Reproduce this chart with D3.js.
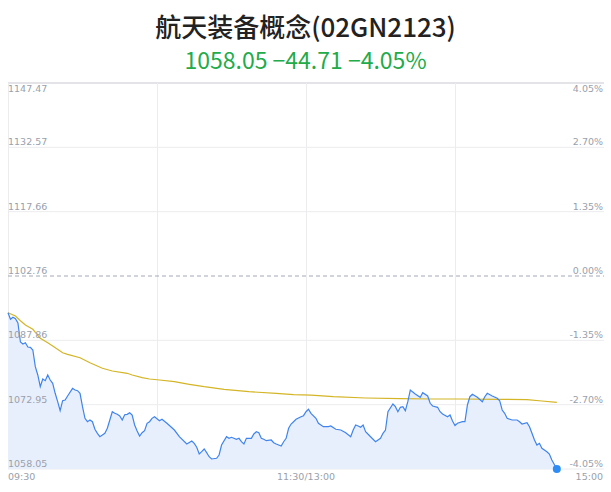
<!DOCTYPE html>
<html>
<head>
<meta charset="utf-8">
<script src="https://cdn.jsdelivr.net/npm/d3@7"></script>
<style>
  body { margin: 0; background: #fff; }
</style>
</head>
<body>
<div id="vis"></div>
<script>
const WIDTH = 611;
const HEIGHT = 492;
const MARGINS = {left: 8, right: 7, top: 83, bottom: 23};

const TITLE = "航天装备概念(02GN2123)";
const SUBTITLE = "1058.05 −44.71 −4.05%";

// price axis ticks (left) and percent labels (right)
const PRICE_TICKS = [1147.47, 1132.57, 1117.66, 1102.76, 1087.86, 1072.95, 1058.05];
const PCT_LABELS = ["4.05%", "2.70%", "1.35%", "0.00%", "-1.35%", "-2.70%", "-4.05%"];
const PREV_CLOSE = 1102.76;

// minutes from 09:30 (0..240, lunch break squeezed out)
const TIME_TICKS = [0, 120, 240];
const TIME_LABELS = ["09:30", "11:30/13:00", "15:00"];
const GRID_MINUTES = [0, 60, 120, 180];

// intraday price
const PRICE_MIN = [0,1,2,3,4,5,6,7,8,9,10,11,12,13,14,15,16,17,18,19,20,21,22,23,24,26,27,28,29,30,
  31,32,33,34,35,36,37,39,40,41,42,43,44,45,46,47,48,49,50,51,52,53,54,55,56,57,58,59,61,62,
  64,67,69,72,74,75,76,77,78,79,80,81,82,84,85,86,88,89,90,92,93,94,95,96,98,99,100,101,102,103,
  104,106,107,108,110,111,112,113,114,115,116,118,119,120,121,122,124,125,127,129,130,132,134,136,138,139,140,141,142,143,
  144,146,148,150,151,152,153,155,156,157,158,159,160,161,162,164,166,167,169,170,171,173,174,175,177,178,179,180,181,183,
  184,185,186,187,189,191,192,193,195,197,198,199,200,201,203,205,206,207,209,210,211,212,213,214,215,217,218,219,221];
const PRICE = [1094.26,1092.73,1093.19,1092.87,1091.87,1087.47,1087.01,1087.31,1086.31,1086.24,1085.62,1081.75,1079.83,1077.12,1078.90,
  1078.51,1079.83,1078.67,1077.90,1075.59,1073.64,1071.56,1073.87,1074.03,1074.96,1076.74,1076.35,1076.19,1075.59,1072.48,
  1069.79,1069.01,1069.40,1069.01,1067.25,1066.32,1065.53,1066.32,1067.48,1069.40,1071.32,1070.95,1070.72,1070.33,1069.40,
  1070.63,1070.72,1071.09,1070.56,1068.24,1066.85,1065.69,1066.46,1066.92,1068.64,1069.01,1069.79,1070.17,1069.24,1069.56,
  1068.64,1067.08,1065.53,1063.84,1064.54,1064.00,1063.08,1061.52,1062.06,1062.68,1061.83,1060.90,1060.37,1060.53,1061.29,
  1063.61,1065.53,1065.16,1065.39,1064.93,1065.16,1064.37,1063.84,1065.16,1065.16,1066.16,1066.69,1066.46,1065.16,1064.93,
  1064.61,1064.77,1064.14,1063.84,1063.38,1064.37,1065.16,1067.48,1068.47,1069.01,1069.56,1070.17,1070.40,1071.32,1071.88,
  1070.95,1069.79,1068.64,1067.85,1067.85,1068.01,1067.25,1067.08,1066.46,1065.53,1067.08,1068.24,1068.01,1067.71,1068.24,
  1066.69,1065.53,1064.37,1065.16,1066.32,1067.08,1071.32,1073.11,1072.48,1071.32,1072.34,1072.48,1071.56,1073.64,1076.35,
  1075.42,1074.66,1075.72,1074.96,1073.27,1072.64,1072.34,1071.32,1070.79,1070.17,1070.56,1069.17,1068.13,1068.64,1069.01,
  1069.01,1072.88,1074.80,1075.35,1074.66,1073.64,1074.80,1075.59,1074.96,1074.43,1073.87,1071.72,1070.95,1069.79,1069.40,
  1069.40,1069.01,1068.47,1068.78,1067.85,1066.32,1064.77,1063.61,1064.00,1062.85,1062.06,1061.52,1060.13,1058.05];

// average price line
const AVG_MIN = [0,3,5,7,10,13,16,18,22,24,29,33,38,42,48,50,54,57,61,67,73,79,87,97,108,115,122,131,144,158,171,182,198,209,215,221];
const AVG = [1094.26,1093.49,1092.40,1091.41,1090.41,1088.33,1087.31,1086.54,1084.99,1084.62,1083.83,1082.67,1081.38,1080.75,
  1080.22,1079.83,1079.20,1078.90,1078.67,1078.27,1077.67,1077.12,1076.51,1075.96,1075.59,1075.26,1075.15,1074.80,1074.50,
  1074.34,1074.27,1074.27,1074.20,1074.10,1073.80,1073.50];

const LABEL_FONT = "'DejaVu Sans', sans-serif";
const LABEL_COLOR = "#9a9fac";

const FRAME = d3.select("#vis")
  .append("svg")
    .attr("width", WIDTH)
    .attr("height", HEIGHT)
    .attr("class", "frame");

const X_SCALE = d3.scaleLinear()
  .domain([0, 240])
  .range([MARGINS.left, WIDTH - MARGINS.right]);

const Y_SCALE = d3.scaleLinear()
  .domain([d3.min(PRICE_TICKS), d3.max(PRICE_TICKS)])
  .range([HEIGHT - MARGINS.bottom, MARGINS.top]);

const x0 = X_SCALE.range()[0], x1 = X_SCALE.range()[1];
const yBottom = Y_SCALE.range()[0], yTop = Y_SCALE.range()[1];

// titles
FRAME.append("text")
  .attr("x", WIDTH / 2).attr("y", 37)
  .attr("text-anchor", "middle")
  .attr("font-family", "'Noto Sans CJK SC', sans-serif")
  .attr("font-size", 26)
  .attr("font-weight", 500)
  .attr("fill", "#222")
  .text(TITLE);

FRAME.append("text")
  .attr("x", WIDTH / 2).attr("y", 69)
  .attr("text-anchor", "middle")
  .attr("font-family", "'Noto Sans CJK SC', sans-serif")
  .attr("font-size", 23)
  .attr("fill", "#22ab4a")
  .text(SUBTITLE);

// grid
FRAME.selectAll(".hgrid")
  .data(PRICE_TICKS.filter(d => d !== PREV_CLOSE))
  .enter().append("line")
    .attr("x1", x0).attr("x2", x1)
    .attr("y1", d => Y_SCALE(d)).attr("y2", d => Y_SCALE(d))
    .attr("stroke", d => d === d3.max(PRICE_TICKS) ? "#e4e4e8" : "#ececef")
    .attr("stroke-width", d => d === d3.max(PRICE_TICKS) ? 2 : 1);

FRAME.selectAll(".vgrid")
  .data(GRID_MINUTES)
  .enter().append("line")
    .attr("x1", d => X_SCALE(d) + 0.5).attr("x2", d => X_SCALE(d) + 0.5)
    .attr("y1", yTop).attr("y2", yBottom)
    .attr("stroke", "#ececef");

// area + price line
const area = d3.area()
  .x((d, i) => X_SCALE(PRICE_MIN[i]))
  .y0(yBottom)
  .y1(d => Y_SCALE(d));

FRAME.append("path")
  .datum(PRICE)
  .attr("d", area)
  .attr("fill", "#e8effc");

FRAME.append("line")
  .attr("x1", x0).attr("x2", x1)
  .attr("y1", Y_SCALE(PREV_CLOSE)).attr("y2", Y_SCALE(PREV_CLOSE))
  .attr("stroke", "#a4a8b6")
  .attr("stroke-dasharray", "4,3");

FRAME.append("path")
  .datum(AVG)
  .attr("d", d3.line().x((d, i) => X_SCALE(AVG_MIN[i])).y(d => Y_SCALE(d)))
  .attr("fill", "none")
  .attr("stroke", "#d4b526")
  .attr("stroke-width", 1.2);

FRAME.append("path")
  .datum(PRICE)
  .attr("d", d3.line().x((d, i) => X_SCALE(PRICE_MIN[i])).y(d => Y_SCALE(d)))
  .attr("fill", "none")
  .attr("stroke", "#3f84ee")
  .attr("stroke-width", 1.2);

FRAME.append("circle")
  .attr("cx", X_SCALE(PRICE_MIN[PRICE_MIN.length - 1]))
  .attr("cy", Y_SCALE(PRICE[PRICE.length - 1]))
  .attr("r", 4)
  .attr("fill", "#2e8cf7");

// axis labels
FRAME.selectAll(".ylab")
  .data(PRICE_TICKS)
  .enter().append("text")
    .attr("x", x0)
    .attr("y", (d, i) => i === 0 ? Y_SCALE(d) + 9 : Y_SCALE(d) - 2)
    .attr("font-family", LABEL_FONT)
    .attr("font-size", 9.5)
    .attr("fill", LABEL_COLOR)
    .text(d => d.toFixed(2));

FRAME.selectAll(".plab")
  .data(PRICE_TICKS)
  .enter().append("text")
    .attr("x", x1 - 1)
    .attr("y", (d, i) => i === 0 ? Y_SCALE(d) + 9 : Y_SCALE(d) - 2)
    .attr("text-anchor", "end")
    .attr("font-family", LABEL_FONT)
    .attr("font-size", 9.5)
    .attr("fill", LABEL_COLOR)
    .text((d, i) => PCT_LABELS[i]);

FRAME.selectAll(".tlab")
  .data(TIME_TICKS)
  .enter().append("text")
    .attr("x", (d, i) => i === TIME_TICKS.length - 1 ? X_SCALE(d) - 1 : X_SCALE(d))
    .attr("y", yBottom + 11)
    .attr("text-anchor", (d, i) => i === 0 ? "start" : (i === TIME_TICKS.length - 1 ? "end" : "middle"))
    .attr("font-family", LABEL_FONT)
    .attr("font-size", 9.5)
    .attr("fill", LABEL_COLOR)
    .text((d, i) => TIME_LABELS[i]);
</script>
</body>
</html>
